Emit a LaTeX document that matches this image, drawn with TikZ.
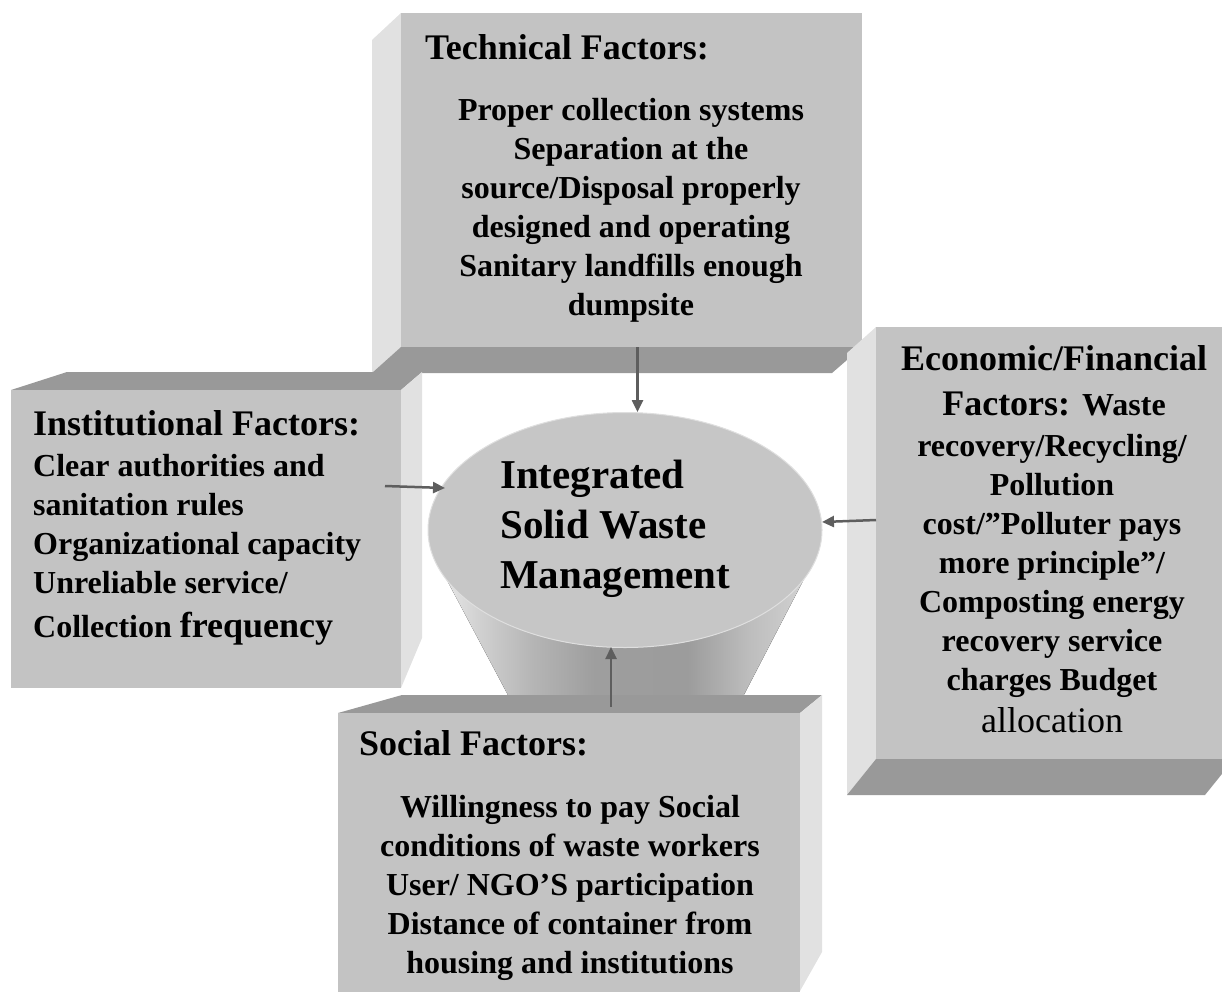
\documentclass[tikz,border=0pt]{standalone}
\usepackage{fontspec}
\setmainfont{Liberation Serif}
\usetikzlibrary{arrows.meta, positioning, shapes.geometric}

\definecolor{facegray}{HTML}{C3C3C3}
\definecolor{sidegray}{HTML}{E1E1E1}
\definecolor{edgegray}{HTML}{999999}
\definecolor{arrowgray}{HTML}{5E5E5E}
\definecolor{topgray}{HTML}{C6C6C6}

% body of the cone, light on the left, darkest right of the middle
\pgfdeclarehorizontalshading{conebody}{100bp}{color(0bp)=(black!7); color(25bp)=(black!7); color(31bp)=(black!18); color(38bp)=(black!29); color(46bp)=(black!38); color(58bp)=(black!39); color(66bp)=(black!26); color(75bp)=(black!16); color(100bp)=(black!16)}

\newcommand*{\headsize}{\fontsize{36}{40}\selectfont}
\newcommand*{\bodysize}{\fontsize{32}{39}\selectfont}

\begin{document}
\begin{tikzpicture}[
      x=1pt, y=-1pt,
      face/.style={fill=facegray, draw=none, inner sep=0, outer sep=0, anchor=north west},
      side/.style={fill=sidegray},
      edge/.style={fill=edgegray},
      head/.style={font=\headsize\bfseries, inner sep=0, anchor=base west},
      body/.style={font=\bodysize\bfseries, inner sep=0, align=center, anchor=base},
      flow/.style={draw=arrowgray, line width=2.5pt, -{Triangle[length=12pt,width=11pt]}},
      ]
      \useasboundingbox (0,0) rectangle (1222,991);

      % technical (text nodes sit on the baseline of their last line)
      \fill[side] (401,13) -- (372,40) -- (372,373) -- (401,347) -- cycle;
      \fill[edge] (401,347) -- (862,347) -- (832,373) -- (372,373) -- cycle;
      \node[face, minimum width=461pt, minimum height=334pt] (tech) at (401,13) {};
      \node[head] (techhead) at (425,59) {Technical Factors:};
      \node[body] (techbody) at (631,315) {Proper collection systems\\ Separation at the\\ source/Disposal properly\\ designed and operating\\ Sanitary landfills enough\\ dumpsite};

      % institutional
      \fill[edge] (11,390) -- (67,372) -- (422,372) -- (401,390) -- cycle;
      \fill[side] (401,390) -- (422,372) -- (422,638) -- (401,688) -- cycle;
      \node[face, minimum width=390pt, minimum height=298pt] (inst) at (11,390) {};
      \node[head] (insthead) at (33,435) {Institutional Factors:};
      \node[body, align=left, anchor=base west] (instbody) at (33,637) {Clear authorities and\\ sanitation rules\\ Organizational capacity\\ Unreliable service/\\[5pt] Collection {\headsize frequency}};

      % economic / financial
      \fill[side] (876,327) -- (847,353) -- (847,795) -- (876,759) -- cycle;
      \fill[edge] (876,759) -- (1234,759) -- (1205,795) -- (847,795) -- cycle;
      \node[face, minimum width=358pt, minimum height=432pt] (econ) at (876,327) {};
      \node[head, align=center, anchor=base, font=\fontsize{36}{45}\selectfont\bfseries] (econhead) at (1054,415) {Economic/Financial\\ Factors: {\bodysize Waste}};
      \node[body] (econbody) at (1052,732) {recovery/Recycling/\\ Pollution\\ cost/''Polluter pays\\ more principle''/\\ Composting energy\\ recovery service\\ charges Budget\\[3pt] {\headsize\mdseries allocation}};

      % integrated solid waste management
      \fill[shading=conebody] (432,552) -- (517,712) -- (735,712) -- (818,552) -- cycle;
      \node[ellipse, fill=topgray, draw=gray!25, line width=1pt, minimum width=394pt, minimum height=235pt, inner sep=0] (iswm) at (625,530) {};
      \node[font=\fontsize{41}{50}\selectfont\bfseries, align=left, anchor=base west, inner sep=0] (iswmtext) at (500,588) {Integrated\\ Solid Waste\\ Management};

      % social
      \fill[edge] (338,713) -- (402,695) -- (822,695) -- (800,713) -- cycle;
      \fill[side] (800,713) -- (822,695) -- (822,952) -- (800,991) -- cycle;
      \node[face, minimum width=462pt, minimum height=290pt] (soc) at (338,713) {};
      \node[head] (sochead) at (359,755) {Social Factors:};
      \node[body] (socbody) at (570,973) {Willingness to pay Social\\ conditions of waste workers\\ User/ NGO'S participation\\ Distance of container from\\ housing and institutions};

      % arrows into the centre
      \coordinate (instout) at (385,486);
      \coordinate (instin) at (445,488);
      \coordinate (econout) at (876,520);
      \coordinate (econin) at (822,522);
      \coordinate (socout) at (611,707);
      \coordinate (socin) at (611,647);
      \draw[flow] ([xshift=6pt]tech.south) -- ([xshift=6pt]tech.south |- iswm.north);
      \draw[flow] (instout) -- (instin);
      \draw[flow] (econout) -- (econin);
      \draw[flow] (socout) -- (socin);
    \end{tikzpicture}
\end{document}
